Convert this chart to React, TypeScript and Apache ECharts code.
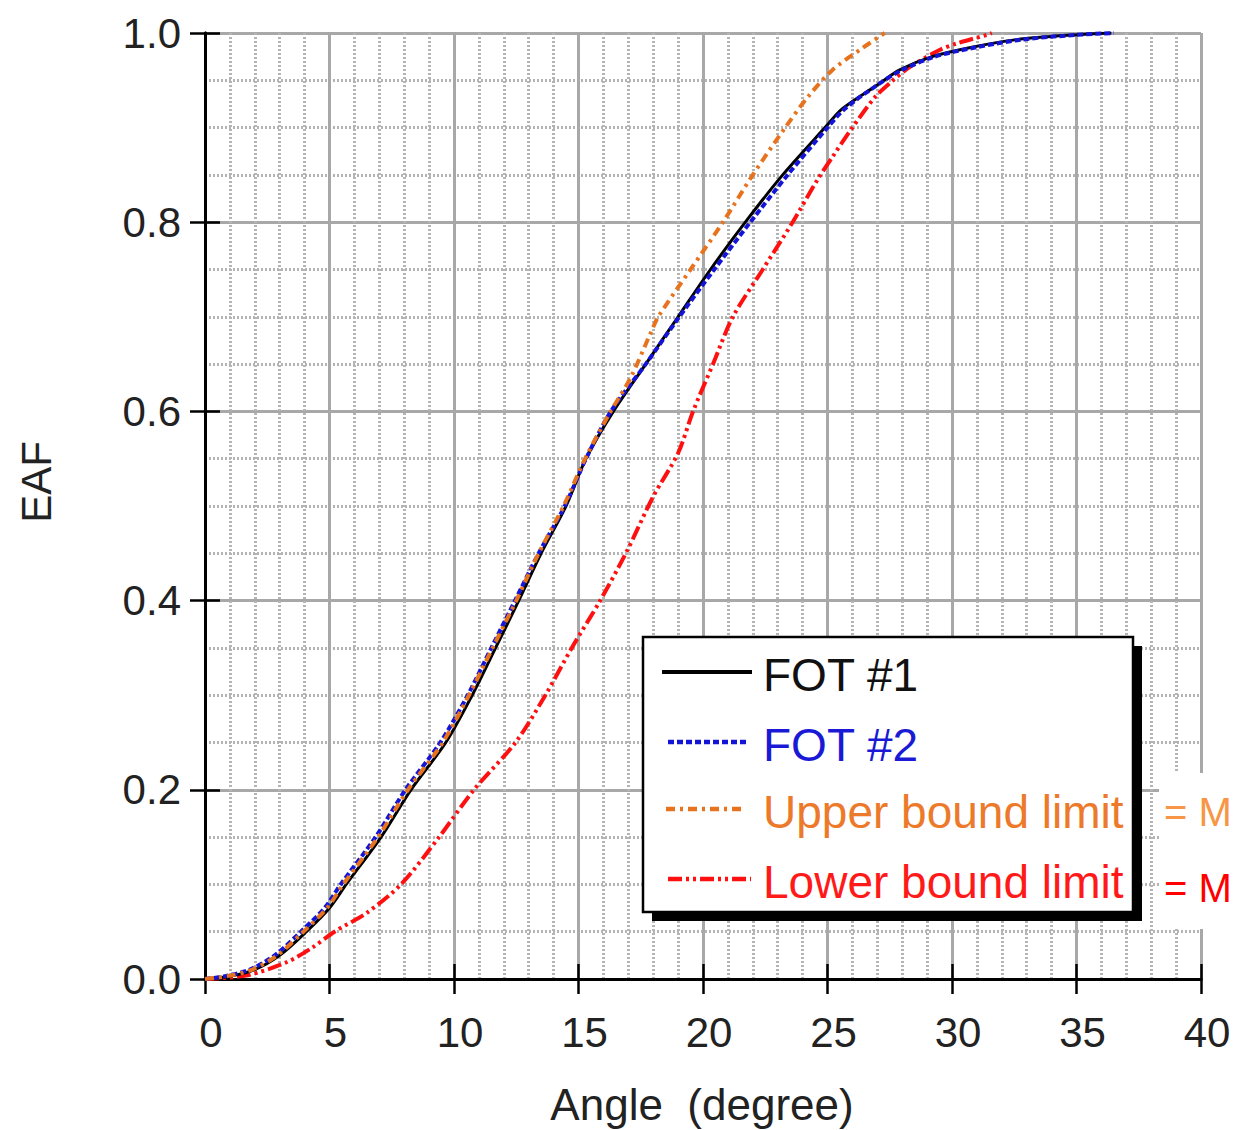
import React, { useEffect, useRef } from "react";
import * as echarts from "echarts";

const fot1Deg = [0, 1.0, 2.0, 3.0, 4.07, 5.0, 5.67, 7.07, 8.27, 9.67, 10.73, 11.67, 12.6, 13.5, 14.5, 15.3, 16.4, 17.7, 19.0, 20.3, 21.7, 23.2, 24.9, 25.6, 27.0, 27.9, 29.2, 30.8, 32.6, 34.9, 36.4];
const fot1Eaf = [0, 0.003, 0.01, 0.025, 0.05, 0.075, 0.1, 0.15, 0.2, 0.25, 0.3, 0.35, 0.4, 0.45, 0.5, 0.55, 0.6, 0.65, 0.7, 0.75, 0.8, 0.85, 0.9, 0.92, 0.945, 0.961, 0.975, 0.985, 0.993, 0.998, 1.0];

const fot2Deg = [0, 0.8, 1.8, 2.8, 3.85, 4.8, 5.45, 6.85, 8.05, 9.45, 10.55, 11.5, 12.45, 13.4, 14.45, 15.3, 16.3, 17.7, 19.05, 20.45, 21.9, 23.4, 25.0, 25.7, 27.0, 28.0, 29.3, 31.0, 32.8, 35.0, 36.5];
const fot2Eaf = [0, 0.003, 0.01, 0.025, 0.05, 0.075, 0.1, 0.15, 0.2, 0.25, 0.3, 0.35, 0.4, 0.45, 0.5, 0.55, 0.6, 0.65, 0.7, 0.75, 0.8, 0.85, 0.9, 0.92, 0.945, 0.961, 0.975, 0.985, 0.993, 0.998, 1.0];

const upperDeg = [0, 0.9, 1.9, 2.9, 3.95, 4.9, 5.55, 6.95, 8.15, 9.55, 10.6, 11.55, 12.5, 13.4, 14.4, 15.3, 16.25, 17.1, 17.9, 18.2, 19.5, 20.8, 22.0, 23.3, 24.2, 25.2, 26.4, 27.3];
const upperEaf = [0, 0.003, 0.01, 0.025, 0.05, 0.075, 0.1, 0.15, 0.2, 0.25, 0.3, 0.35, 0.4, 0.45, 0.5, 0.552, 0.598, 0.636, 0.683, 0.7, 0.75, 0.8, 0.85, 0.9, 0.932, 0.961, 0.984, 1.0];

const lowerDeg = [0, 1.7, 3.3, 4.3, 5.2, 6.5, 7.87, 9.4, 10.8, 12.47, 13.67, 14.73, 15.87, 16.9, 18.0, 19.0, 19.6, 20.4, 21.2, 22.4, 23.6, 24.6, 25.2, 26.0, 26.9, 27.5, 28.3, 29.5, 30.2, 31.4, 31.6];
const lowerEaf = [0, 0.004, 0.018, 0.033, 0.05, 0.07, 0.1, 0.15, 0.2, 0.25, 0.3, 0.35, 0.4, 0.45, 0.51, 0.556, 0.6, 0.65, 0.7, 0.75, 0.8, 0.845, 0.869, 0.9, 0.932, 0.947, 0.964, 0.982, 0.989, 0.998, 1.0];

const seriesNames = ["FOT #1", "FOT #2", "Upper bound limit", "Lower bound limit"];
const xTicks = [0, 5, 10, 15, 20, 25, 30, 35, 40];
const yTicks = [0.0, 0.2, 0.4, 0.6, 0.8, 1.0];
const sideNotes = ["= M", "= M"];

const zip = (xs: number[], ys: number[]) => xs.map((x, i) => [x, ys[i]]);

const COLORS = ["#000000", "#1414d8", "#e8731e", "#ff1010"];
const TEXT_COLORS = ["#111111", "#1a1ad6", "#ec7a2a", "#ff1a1a"];
const DASHES: any[] = ["solid", [6, 3], [9, 5, 3, 5], [14, 4, 3, 4, 3, 4]];
const FONT = "Liberation Sans, Arial, Helvetica, sans-serif";

export default function App() {
  const ref = useRef<HTMLDivElement>(null);
  useEffect(() => {
    if (!ref.current) return;
    const chart = echarts.init(ref.current, undefined, { renderer: "svg" });
    const gridL = 205, gridT = 33, gridW = 996, gridH = 946;

    const majorSplit = { show: true, lineStyle: { color: "#a8a8a8", width: 3, type: "solid" as const } };
    const minorSplit = { show: true, lineStyle: { color: "#b4b4b4", width: 3, type: [2, 2] as any } };
    const axisLine = { show: true, lineStyle: { color: "#000", width: 3 } };
    const tick = { show: true, inside: true, length: 15, lineStyle: { color: "#000", width: 2.5 } };

    const legendX = 643, legendY = 637, legendW = 490, legendH = 275;
    const rowY = [672, 742, 809, 879];
    const lineSeg = [[662, 752], [668, 748], [666, 744], [668, 751]];

    const graphic: any[] = [
      { type: "rect", z: 100, shape: { x: legendX + 9, y: legendY + 9, width: legendW, height: legendH }, style: { fill: "#000" } },
      { type: "rect", z: 101, shape: { x: legendX, y: legendY, width: legendW, height: legendH }, style: { fill: "#fff", stroke: "#000", lineWidth: 2.5 } },
    ];
    seriesNames.forEach((n, i) => {
      graphic.push({
        type: "line", z: 102,
        shape: { x1: lineSeg[i][0], y1: rowY[i], x2: lineSeg[i][1], y2: rowY[i] },
        style: { stroke: COLORS[i], lineWidth: i === 0 ? 4 : 4.5, lineDash: DASHES[i] === "solid" ? null : DASHES[i] },
      });
      graphic.push({
        type: "text", z: 102, x: 763, y: rowY[i] + 3,
        style: { text: n, fill: TEXT_COLORS[i], font: `46px ${FONT}`, textVerticalAlign: "middle" },
      });
    });
    // white patch on the right with the side notes
    graphic.push({ type: "rect", z: 110, shape: { x: 1159, y: 773, width: 80, height: 156 }, style: { fill: "#fff" } });
    graphic.push({ type: "text", z: 111, x: 1164, y: 812, style: { text: sideNotes[0], fill: "#f79646", font: `40px ${FONT}`, textVerticalAlign: "middle" } });
    graphic.push({ type: "text", z: 111, x: 1164, y: 888, style: { text: sideNotes[1], fill: "#ff0000", font: `40px ${FONT}`, textVerticalAlign: "middle" } });
    // y axis name
    graphic.push({ type: "text", z: 50, x: 36, y: 482, rotation: Math.PI / 2, style: { text: "EAF", fill: "#222", font: `42px ${FONT}`, textAlign: "center", textVerticalAlign: "middle" } });
    // x axis name
    graphic.push({ type: "text", z: 50, x: 702, y: 1104, style: { text: "Angle  (degree)", fill: "#222", font: `44px ${FONT}`, textAlign: "center", textVerticalAlign: "middle" } });

    const datas = [zip(fot1Deg, fot1Eaf), zip(fot2Deg, fot2Eaf), zip(upperDeg, upperEaf), zip(lowerDeg, lowerEaf)];

    chart.setOption({
      animation: false,
      backgroundColor: "#fff",
      grid: { left: gridL, top: gridT, width: gridW, height: gridH, containLabel: false },
      xAxis: [
        {
          type: "value", min: 0, max: 40, interval: 5, position: "bottom",
          axisLine, axisTick: tick,
          axisLabel: {
            show: true, margin: 32, color: "#222", fontSize: 42, fontFamily: FONT,
            padding: [0, 0, 0, 12],
            formatter: (v: number) => (xTicks.includes(v) ? String(v) : ""),
          },
          splitLine: majorSplit,
          minorTick: { show: true, splitNumber: 5, length: 0, lineStyle: { width: 0, color: "transparent" } },
          minorSplitLine: minorSplit,
        },
        {
          type: "value", min: 0, max: 40, interval: 5, position: "top",
          axisLine, axisTick: tick, axisLabel: { show: false }, splitLine: { show: false },
        },
      ],
      yAxis: [
        {
          type: "value", min: 0, max: 1, interval: 0.2, position: "left",
          axisLine, axisTick: tick,
          axisLabel: {
            show: true, margin: 24, color: "#222", fontSize: 42, fontFamily: FONT,
            formatter: (v: number) => {
              const t = yTicks.find((y) => Math.abs(y - v) < 1e-6);
              return t === undefined ? "" : t.toFixed(1);
            },
          },
          splitLine: majorSplit,
          minorTick: { show: true, splitNumber: 4, length: 0, lineStyle: { width: 0, color: "transparent" } },
          minorSplitLine: minorSplit,
        },
        {
          type: "value", min: 0, max: 1, interval: 0.2, position: "right",
          axisLine, axisTick: tick, axisLabel: { show: false }, splitLine: { show: false },
        },
      ],
      series: seriesNames.map((name, i) => ({
        name,
        type: "line",
        data: datas[i],
        xAxisIndex: 0,
        yAxisIndex: 0,
        showSymbol: false,
        smooth: 0.3,
        z: 3 + (i === 0 ? 2 : i === 1 ? 3 : i === 2 ? 4 : 1),
        lineStyle: { color: COLORS[i], width: i === 0 ? 3 : 4, type: DASHES[i] },
        itemStyle: { color: COLORS[i] },
      })),
      graphic,
    });
    return () => chart.dispose();
  }, []);
  return <div ref={ref} style={{ position: "absolute", left: 0, top: 0, width: 1234, height: 1130 }} />;
}
